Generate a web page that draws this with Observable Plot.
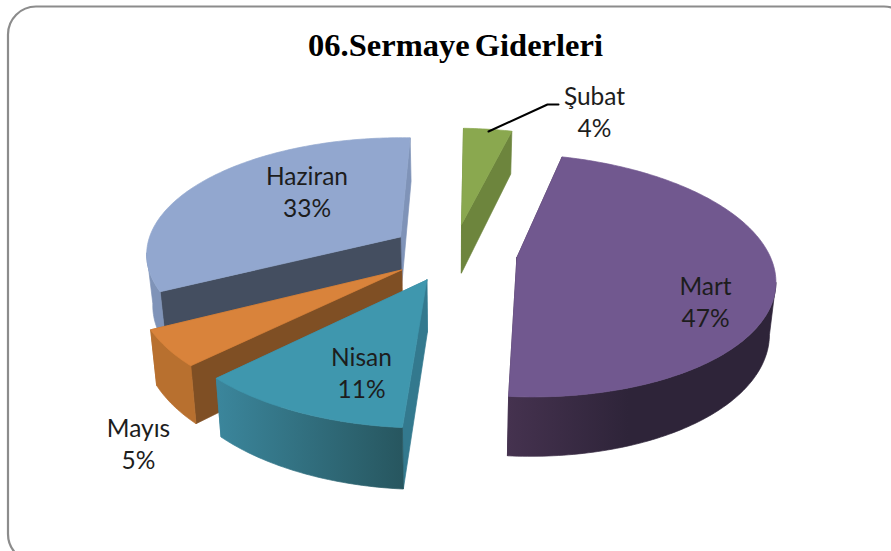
<!DOCTYPE html>
<html>
<head>
<meta charset="utf-8">
<script src="https://cdn.jsdelivr.net/npm/d3@7"></script>
<script src="https://cdn.jsdelivr.net/npm/@observablehq/plot@0.6"></script>
<style>html,body{margin:0;padding:0;background:#fff;overflow:hidden}svg{display:block}svg text{word-spacing:-3px}</style>
</head>
<body>
<div id="chart"></div>
<script>
// Data: slice sizes; the labels show them rounded
const months = ["Şubat", "Mart", "Nisan", "Mayıs", "Haziran"];
const shares = [3.6, 47.2, 11.4, 4.8, 33];
const chartTitle = "06.Sermaye Giderleri";

// Styles
const topColors = ["#8aa84f", "#71588f", "#3f97ae", "#d9833b", "#92a7cf"];
const edgeColors = ["#6d853d", "#43324f", "#33798e", "#7f4f24", "#444e60"]; // start radial wall
const endEdgeColors = ["#6d853d", "#43324f", "#3a8299", "#b8702f", "#7f93b8"]; // end radial wall
const rimFills = ["#6d853d", "url(#wall-mart)", "url(#wall-nisan)", "#b8702f", "#7f93b8"];
const gradientDefs = `
  <linearGradient id="wall-mart" x1="0" x2="1" y1="0" y2="0">
    <stop offset="0" stop-color="#45324f"/><stop offset="0.45" stop-color="#2e2439"/><stop offset="1" stop-color="#2e2439"/>
  </linearGradient>
  <linearGradient id="wall-nisan" x1="0" x2="1" y1="0" y2="0">
    <stop offset="0" stop-color="#3b869c"/><stop offset="1" stop-color="#27565f"/>
  </linearGradient>`;

// Label layout (page pixels)
const labelX = [594, 705, 361, 138, 306.5];
const labelY = [110.5, 300.5, 371.5, 442, 190.5];

// Pie geometry: perspective view of a disc of radius 1, each slice exploded
const view = {vx: 476.95, offset: -163, horizon: -557, depthTop: 5583, depthBottom: 5931, width: 1750, eye: 6.888, shrink: 0.98, explode: 0.25, tilt: 0.016, lift: -1.5, tiltAt: 457};
const leader = [[488, 131], [547, 104], [558, 104]].map(([x, y]) => ({x, y}));

function project(X, Y, bottom) {
  const e = view.eye + Y;
  const x = view.vx + ((bottom ? view.shrink : 1) * view.width * X + view.offset) / e;
  const y = view.horizon + (bottom ? view.depthBottom : view.depthTop) / e + view.lift + view.tilt * (x - view.tiltAt);
  return {x, y};
}
const rad = (a) => a * Math.PI / 180;

const total = d3.sum(shares);
let cum = 0;
const slices = months.map((m, i) => {
  const a0 = cum / total * 360; cum += shares[i];
  const a1 = cum / total * 360;
  const mid = rad((a0 + a1) / 2);
  return {i, a0, a1, ox: view.explode * Math.sin(mid), oy: view.explode * Math.cos(mid)};
});
const apex = (s, b) => project(s.ox, s.oy, b);
const rim = (s, a, b) => project(s.ox + Math.sin(rad(a)), s.oy + Math.cos(rad(a)), b);
const angles = (s, step = 1) => {
  const n = Math.max(2, Math.ceil((s.a1 - s.a0) / step));
  return d3.range(n + 1).map((k) => s.a0 + (s.a1 - s.a0) * k / n);
};

const polys = [];
const add = (points, color) => polys.push({points: [...points, points[0]], color});
for (const s of d3.sort(slices, (s) => -Math.cos(rad((s.a0 + s.a1) / 2)))) {
  const as = angles(s);
  add([apex(s, 0), rim(s, s.a1, 0), rim(s, s.a1, 1), apex(s, 1)], endEdgeColors[s.i]);
  add([apex(s, 0), rim(s, s.a0, 0), rim(s, s.a0, 1), apex(s, 1)], edgeColors[s.i]);
  // outer wall: only from the rim's widest point forward, which the viewer sees
  const front = as.filter((a) => Math.cos(rad(a)) < -0.17);
  if (front.length > 1) add([...front.map((a) => rim(s, a, 0)), ...front.slice().reverse().map((a) => rim(s, a, 1))], rimFills[s.i]);
  add([apex(s, 0), ...as.map((a) => rim(s, a, 0))], topColors[s.i]);
}

const labels = months.map((m, i) => ({text: `${m}\n${Math.round(shares[i])}%`, x: labelX[i], y: labelY[i]}));

const plot = Plot.plot({
  width: 891,
  height: 551,
  margin: 0,
  x: {domain: [0, 891], range: [0, 891], axis: null},
  y: {domain: [0, 551], range: [0, 551], axis: null},
  style: {background: "#fff"},
  marks: [
    () => d3.create("svg:defs").html(gradientDefs).node(),
    Plot.rect([{x1: 8, x2: 912, y1: 6.5, y2: 562}], {x1: "x1", x2: "x2", y1: "y1", y2: "y2", rx: 28, fill: "#fff", stroke: "#8c8c8c", strokeWidth: 2.2}),
    polys.map((p) => Plot.line(p.points, {x: "x", y: "y", fill: p.color, stroke: p.color, strokeWidth: 0.7})),
    Plot.line(leader, {x: "x", y: "y", stroke: "#000", strokeWidth: 2}),
    Plot.text([chartTitle], {x: () => 455, y: () => 45.5, text: (d) => d, fontFamily: "Liberation Serif", fontWeight: "bold", fontSize: 32.5, fill: "#000"}),
    Plot.text(labels, {x: "x", y: "y", text: "text", fontFamily: "Lato", fontSize: 24.5, lineHeight: 1.3, fill: "#1d1d1d"})
  ]
});
document.getElementById("chart").append(plot);
</script>
</body>
</html>
